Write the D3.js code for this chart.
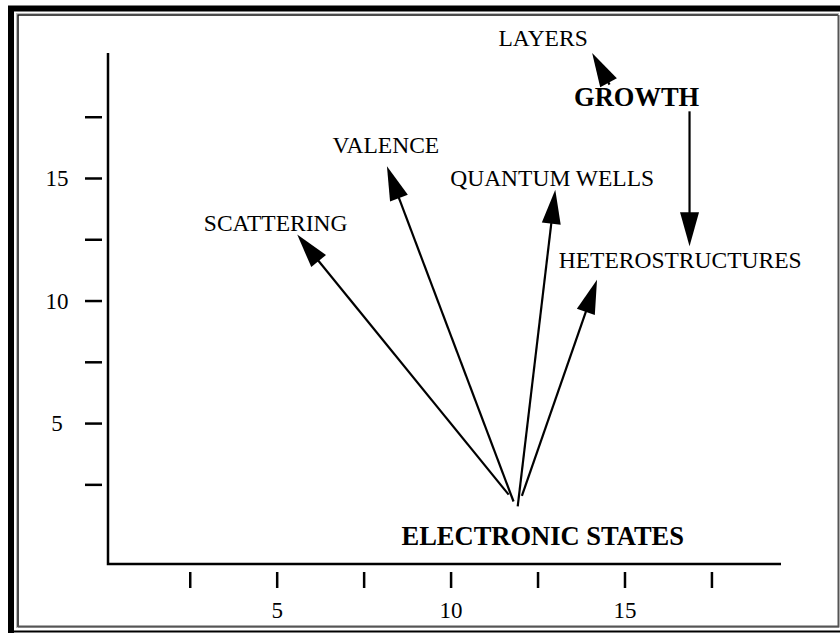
<!DOCTYPE html>
<html>
<head>
<meta charset="utf-8">
<script src="https://d3js.org/d3.v7.min.js"></script>
<style>
 body {margin:0; background:#fff;}
 svg {display:block;}
 text {font-family:"Liberation Serif","Times New Roman",serif; fill:#000;}
</style>
</head>
<body>
<div id="chart"></div>
<script>
// tick values on both axes (only 5, 10, 15 carry a label)
var tickVals = [2.5, 5, 7.5, 10, 12.5, 15, 17.5];
var tickLabelled = [5, 10, 15];

// concept labels, placed in axis units (x = centre, y = baseline)
var nodes = ["ELECTRONIC STATES", "GROWTH", "SCATTERING", "VALENCE", "QUANTUM WELLS", "HETEROSTRUCTURES", "LAYERS"];
var nodeX = [12.65, 15.35, 4.97, 8.14, 12.92, 16.6, 12.66];
var nodeY = [0.04, 17.92, 12.82, 16.0, 14.69, 11.33, 20.37];
var mainNodes = ["ELECTRONIC STATES", "GROWTH"];

// arrows between concepts, start and tip in axis units
var linkFrom = ["ELECTRONIC STATES", "ELECTRONIC STATES", "ELECTRONIC STATES", "ELECTRONIC STATES", "GROWTH", "GROWTH"];
var linkTo = ["SCATTERING", "VALENCE", "QUANTUM WELLS", "HETEROSTRUCTURES", "HETEROSTRUCTURES", "LAYERS"];
var linkStart = [[11.67, 2.08], [11.81, 1.80], [11.93, 1.60], [12.05, 2.03], [16.87, 17.72], [14.57, 18.81]];
var linkEnd = [[5.59, 12.69], [8.17, 15.48], [13.01, 14.52], [14.21, 10.85], [16.87, 12.21], [14.07, 20.1]];

var width = 840, height = 633;

var svg = d3.select("#chart").append("svg")
  .attr("width", width).attr("height", height);

// window style double frame
var frame = svg.append("g");
frame.append("path").attr("d", "M11,633 V8.5 H840").attr("fill", "none")
  .attr("stroke", "#000").attr("stroke-width", 6);
frame.append("line").attr("x1", 8).attr("x2", 840).attr("y1", 631.5).attr("y2", 631.5)
  .attr("stroke", "#000").attr("stroke-width", 2);
frame.append("rect").attr("x", 16.5).attr("y", 13.5).attr("width", 822).attr("height", 614)
  .attr("fill", "none").attr("stroke", "#bbb").attr("stroke-width", 1);
frame.append("path").attr("d", "M18,627 V15 H838").attr("fill", "none")
  .attr("stroke", "#111").attr("stroke-width", 1.5);
frame.append("path").attr("d", "M18,626.5 H838.5 V15").attr("fill", "none")
  .attr("stroke", "#555").attr("stroke-width", 2);

var x = d3.scaleLinear().domain([0.15, 19.5]).range([108, 781]);
var y = d3.scaleLinear().domain([-0.75, 20.1]).range([564, 53]);

var fmt = function(d) { return tickLabelled.indexOf(d) >= 0 ? d : ""; };

// axis lines
svg.append("path")
  .attr("d", "M" + x.range()[0] + "," + y.range()[1] + " V" + y.range()[0] + " H" + x.range()[1])
  .attr("fill", "none").attr("stroke", "#000").attr("stroke-width", 2.5);

// y ticks stand off the axis line
var gy = svg.append("g").attr("transform", "translate(102,0)")
  .call(d3.axisLeft(y).tickValues(tickVals).tickFormat(fmt).tickSize(17));
gy.select(".domain").remove();
gy.selectAll(".tick line").attr("stroke", "#000").attr("stroke-width", 2.5);
gy.selectAll(".tick text").attr("x", -45).attr("dy", "0.34em")
  .attr("text-anchor", "middle").attr("font-size", 23).attr("font-family", null);

var gx = svg.append("g").attr("transform", "translate(0,572)")
  .call(d3.axisBottom(x).tickValues(tickVals).tickFormat(fmt).tickSize(16));
gx.select(".domain").remove();
gx.selectAll(".tick line").attr("stroke", "#000").attr("stroke-width", 2.5);
gx.selectAll(".tick text").attr("y", 46).attr("dy", 0)
  .attr("font-size", 23).attr("font-family", null);

// arrows
var headLen = 34, headW = 19;
var links = linkFrom.map(function(f, i) {
  return {from: f, to: linkTo[i], s: linkStart[i], e: linkEnd[i]};
});
var arrows = svg.append("g").selectAll("g").data(links).enter().append("g");
arrows.each(function(d) {
  var x1 = x(d.s[0]), y1 = y(d.s[1]), x2 = x(d.e[0]), y2 = y(d.e[1]);
  var len = Math.hypot(x2 - x1, y2 - y1);
  var ux = (x2 - x1) / len, uy = (y2 - y1) / len;
  var bx = x2 - ux * headLen, by = y2 - uy * headLen;
  var g = d3.select(this);
  g.append("line").attr("x1", x1).attr("y1", y1).attr("x2", bx + ux * 2).attr("y2", by + uy * 2)
    .attr("stroke", "#000").attr("stroke-width", 2.2);
  g.append("path")
    .attr("d", "M" + x2 + "," + y2 +
      " L" + (bx - uy * headW / 2) + "," + (by + ux * headW / 2) +
      " L" + (bx + uy * headW / 2) + "," + (by - ux * headW / 2) + " Z")
    .attr("fill", "#000");
});

// concept labels
svg.append("g").selectAll("text").data(nodes).enter().append("text")
  .attr("x", function(d, i) { return x(nodeX[i]); })
  .attr("y", function(d, i) { return y(nodeY[i]); })
  .attr("text-anchor", "middle")
  .attr("font-size", function(d) { return mainNodes.indexOf(d) >= 0 ? 26.5 : 23.5; })
  .attr("font-weight", function(d) { return mainNodes.indexOf(d) >= 0 ? "bold" : "normal"; })
  .text(function(d) { return d; });
</script>
</body>
</html>
